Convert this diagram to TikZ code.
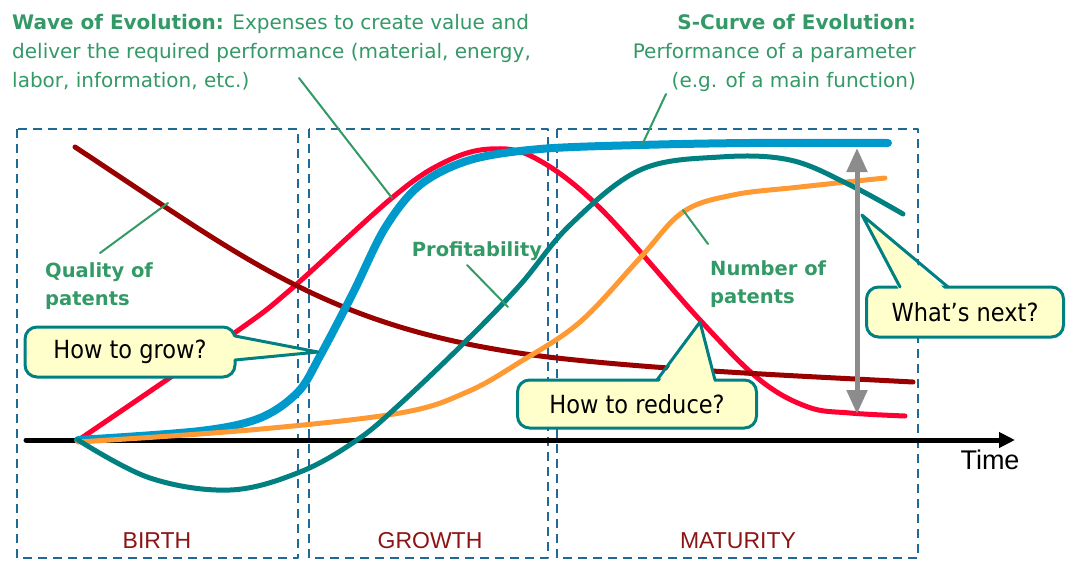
\documentclass[tikz,border=0pt]{standalone}
\usepackage{fontspec}
\setmainfont{DejaVu Sans}
\newfontfamily\bubblefont{DejaVu Sans}[FakeStretch=0.9]
\newfontfamily\arialfont{Liberation Sans}
\usetikzlibrary{arrows.meta}
\definecolor{txtgreen}{RGB}{51,153,102}
\definecolor{boxblue}{RGB}{31,105,150}
\definecolor{bubbleteal}{RGB}{0,128,128}
\definecolor{bubblefill}{RGB}{255,255,204}
\definecolor{stagered}{RGB}{140,20,20}
\definecolor{qualred}{RGB}{153,0,0}
\definecolor{wavered}{RGB}{255,0,51}
\definecolor{sblue}{RGB}{0,153,204}
\definecolor{profteal}{RGB}{0,128,128}
\definecolor{patorange}{RGB}{255,153,51}
\begin{document}
\begin{tikzpicture}[x=1pt, y=-1pt, line join=round, line cap=round, >=stealth,
    phase/.style={draw=boxblue, line width=2.5pt, dash pattern=on 9pt off 6pt, line cap=butt},
    curve/.style={line width=5pt},
    leader/.style={draw=txtgreen, line width=2pt},
    note/.style={text=txtgreen, font=\fontsize{20}{29}\selectfont, inner sep=0pt},
    keyword/.style={note, font=\bfseries\fontsize{19.5}{28}\selectfont},
    bubble/.style={draw=bubbleteal, fill=bubblefill, line width=3pt, rounded corners=12pt,
      minimum height=50pt, font=\bubblefont\fontsize{25}{30}\selectfont},
    tail/.style={draw=bubbleteal, line width=3pt},
    stage/.style={text=stagered, font=\arialfont\fontsize{23}{26}\selectfont}]
  \useasboundingbox (0,0) rectangle (1066,560);
  % phases
  \draw[phase] (17,129) rectangle (298,558);
  \draw[phase] (309,129) rectangle (548,558);
  \draw[phase] (557,129) rectangle (918,558);
  \node[stage] (birth) at (157,541) {BIRTH};
  \node[stage] (growth) at (430,541) {GROWTH};
  \node[stage] (maturity) at (738,541) {MATURITY};
  % time axis
  \coordinate (o) at (26,440);
  \coordinate (tend) at (1015,440);
  \draw[line width=5pt, -{Triangle[width=15pt,length=16pt]}] (o) -- (tend);
  \node[font=\arialfont\fontsize{27}{30}\selectfont] (time) at (990,460) {Time};
  % curves
  \draw[curve, wavered] plot[smooth, tension=0.6] coordinates {(80,439) (233,334) (290,290) (393,197) (445,162) (490,149) (535,158) (600,208) (700,320) (760,380) (808,407) (850,413) (905,416)};
  \draw[curve, qualred] (75,147) .. controls (250,262) and (330,330) .. (548,357) .. controls (660,370) and (800,376) .. (913,382);
  \draw[line width=8pt, sblue] plot[smooth, tension=0.55] coordinates {(78,440) (200,431) (260,418) (298,392) (320,356) (353,293) (385,228) (420,185) (470,160) (540,149) (640,145) (750,143) (888,143)};
  \draw[curve, patorange] plot[smooth, tension=0.6] coordinates {(78,442) (250,430) (400,413) (467,392) (520,362) (580,322) (640,258) (683,212) (733,195) (800,187) (885,178)};
  \draw[curve, profteal] plot[smooth, tension=0.6] coordinates {(78,440) (150,478) (230,490) (300,472) (357,440) (400,404) (467,340) (520,285) (570,225) (640,170) (720,157) (790,160) (850,185) (903,214)};
  % range arrow
  \coordinate (rtop) at (857,148);
  \coordinate (rbot) at (857,414);
  \draw[line width=5pt, gray!90, {Triangle[width=20pt,length=24pt]}-{Triangle[width=20pt,length=24pt]}] (rtop) -- (rbot);
  % green notes
  \node[note, anchor=north west, align=left] (wave) at (12,14)
    {\textbf{Wave of Evolution:} Expenses to create value and\\
     deliver the required performance (material, energy,\\
     labor, information, etc.)};
  \node[note, anchor=north east, align=right] (scurve) at (916,14)
    {\textbf{S-Curve of Evolution:}\\
     Performance of a parameter\\
     (e.g. of a main function)};
  \node[keyword, anchor=north west, align=left] (quality) at (45,262) {Quality of\\patents};
  \node[keyword] (profit) at (477,251) {Profitability};
  \node[keyword, anchor=north west, align=left] (number) at (710,260) {Number of\\patents};
  \coordinate (w1) at (299,78);   \coordinate (w2) at (392,198);
  \coordinate (s1) at (666,94);   \coordinate (s2) at (642,145);
  \coordinate (q1) at (100,253);  \coordinate (q2) at (168,203);
  \coordinate (p1) at (467,265);  \coordinate (p2) at (508,307);
  \coordinate (n1) at (708,244);  \coordinate (n2) at (683,210);
  \draw[leader] (w1) -- (w2);
  \draw[leader] (s1) -- (s2);
  \draw[leader] (q1) -- (q2);
  \draw[leader] (p1) -- (p2);
  \draw[leader] (n1) -- (n2);
  % callouts
  \node[bubble, minimum width=210pt] (grow) at (130,352) {How to grow?};
  \coordinate (growtip) at (318,352);
  \fill[bubblefill] (230,336) -- (growtip) -- (230,360) -- cycle;
  \draw[tail] (235,336) -- (growtip) -- (235,360);
  \node[bubble, minimum width=239pt, minimum height=48pt] (reduce) at (637,404) {How to reduce?};
  \coordinate (reducetip) at (700,322);
  \fill[bubblefill] (657,385) -- (reducetip) -- (715,385) -- cycle;
  \draw[tail] (657,380) -- (reducetip) -- (715,380);
  \node[bubble, minimum width=197pt] (next) at (965,312) {What’s next?};
  \coordinate (nexttip) at (862,215);
  \fill[bubblefill] (900,292) -- (nexttip) -- (948,292) -- cycle;
  \draw[tail] (900,287) -- (nexttip) -- (948,287);
\end{tikzpicture}
\end{document}
